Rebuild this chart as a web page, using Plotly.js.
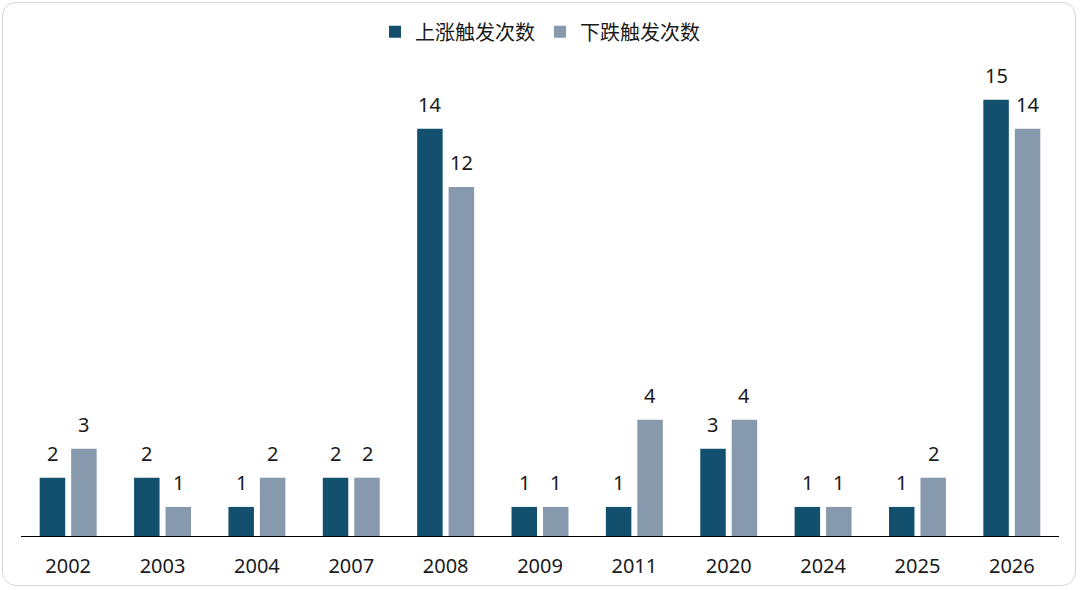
<!DOCTYPE html>
<html><head><meta charset="utf-8">
<script src="https://cdn.plot.ly/plotly-3.0.1.min.js"></script>
<style>
html,body{margin:0;padding:0;background:#fff;}
#frame{position:absolute;left:2px;top:2px;width:1074px;height:584px;border:1.5px solid #d6d6d6;border-radius:14px;box-sizing:border-box;}
#chart{position:absolute;left:0;top:0;width:1080px;height:590px;}
</style>
</head><body>
<div id="frame"></div>
<div id="chart"></div>
<script>
const years = ['2002','2003','2004','2007','2008','2009','2011','2020','2024','2025','2026'];
const upCounts = [2,2,1,2,14,1,1,3,1,1,15];
const downCounts = [3,1,2,2,12,1,4,4,1,2,14];
const seriesNames = ['上涨触发次数','下跌触发次数'];

const font = 'Noto Sans, Noto Sans CJK SC, sans-serif';
const traces = [
  {type:'bar', name:seriesNames[0], x:years, y:upCounts, marker:{color:'#13506e'}},
  {type:'bar', name:seriesNames[1], x:years, y:downCounts, marker:{color:'#8799ac'}}
];
const plotW = 1080 - 21 - 21;
const slot = plotW / years.length * (1 - 0.333) / 2;
const annotations = [];
[upCounts, downCounts].forEach((vals, s) => {
  vals.forEach((v, i) => {
    annotations.push({x: i, y: v, xref:'x', yref:'y', text: String(v), showarrow:false,
      xshift: (s === 0 ? -1 : 1) * slot / 2, yanchor:'bottom', yshift: 9,
      font:{size:20, family:font, color:'#1a1a1a'}});
  });
});
const layout = {
  width:1080, height:590,
  margin:{l:21, r:21, t:28, b:54},
  paper_bgcolor:'rgba(0,0,0,0)', plot_bgcolor:'rgba(0,0,0,0)',
  barmode:'group', bargap:0.333, bargroupgap:0.19,
  font:{family:font, size:20, color:'#1a1a1a'},
  showlegend:true,
  annotations: annotations,
  legend:{orientation:'h', x:0.5, xanchor:'center', y:1.035, yanchor:'top',
    font:{size:20, family:'Noto Sans CJK SC, sans-serif', color:'#1a1a1a'}, traceorder:'normal'},
  xaxis:{type:'category', range:[-0.5, years.length - 0.5], autorange:false, showline:true, linecolor:'#000', linewidth:1.2, ticks:'', showgrid:false,
    ticklabelstandoff:12, tickfont:{size:20, family:font, color:'#1a1a1a'}},
  yaxis:{range:[0,17.4], autorange:false, visible:false, showgrid:false, zeroline:false}
};
Plotly.newPlot('chart', traces, layout, {displayModeBar:false, staticPlot:true});
</script>
</body></html>
